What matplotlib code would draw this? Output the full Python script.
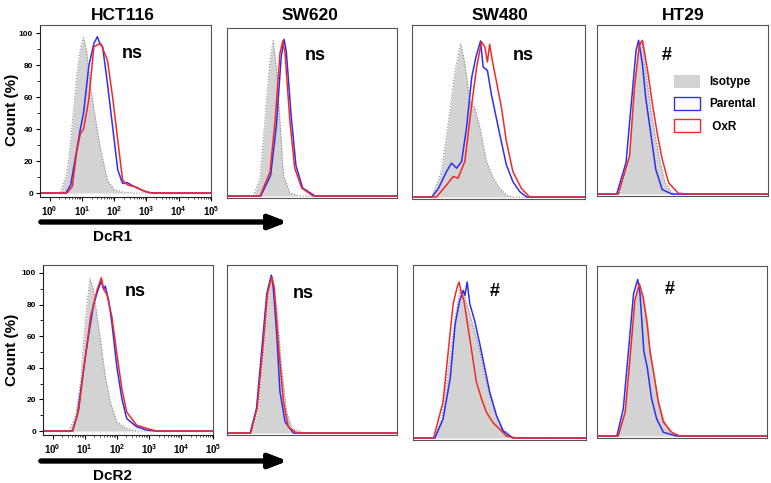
import matplotlib
matplotlib.use("Agg")
import matplotlib.pyplot as plt
from matplotlib.patches import Patch
from matplotlib.ticker import FixedLocator, MultipleLocator
import numpy as np

plt.rcParams['font.family'] = ['Liberation Sans', 'DejaVu Sans']
plt.rcParams['font.weight'] = 'bold'
plt.rcParams['mathtext.fontset'] = 'custom'
plt.rcParams['mathtext.bf'] = 'Liberation Sans:bold'
plt.rcParams['mathtext.rm'] = 'Liberation Sans:bold'

W, H = 771, 483

cell_lines = ["HCT116", "SW620", "SW480", "HT29"]
markers = ["DcR1", "DcR2"]
labels_sig = [["ns", "ns", "ns", "#"], ["ns", "ns", "#", "#"]]

# x in log10 units (decades), y in % of max
# ---- DcR1 ----
hct_r1_iso_x = [-0.3, 0.32, 0.53, 0.63, 0.73, 0.85, 0.95, 1.05, 1.15, 1.27, 1.42, 1.58, 1.79, 2.0, 2.3, 2.6, 5.0]
hct_r1_iso_y = [0, 0, 12, 28, 50, 75, 90, 97, 88, 66, 46, 27, 8, 2, 0.5, 0, 0]
hct_r1_par_x = [-0.3, 0.5, 0.65, 0.84, 0.95, 1.05, 1.21, 1.37, 1.48, 1.56, 1.64, 1.79, 1.95, 2.11, 2.26, 2.4, 2.53, 2.74, 2.9, 3.06, 3.3, 5.0]
hct_r1_par_y = [0, 0, 5, 27, 40, 50, 79, 93.5, 97.7, 93, 91.5, 68.5, 41.5, 14.4, 6, 6.5, 5, 3, 1.5, 0.3, 0, 0]
hct_r1_oxr_x = [-0.3, 0.53, 0.7, 0.84, 0.95, 1.05, 1.21, 1.37, 1.58, 1.79, 1.95, 2.11, 2.26, 2.42, 2.63, 2.95, 3.16, 5.0]
hct_r1_oxr_y = [0, 0, 4, 26, 37, 40, 58, 91.5, 93.5, 83, 60, 33, 8, 5, 4, 1, 0, 0]

sw620_r1_iso_x = [-0.3, 0.52, 0.73, 0.88, 1.04, 1.14, 1.25, 1.35, 1.46, 1.66, 1.98, 5.0]
sw620_r1_iso_y = [0, 0, 11, 47, 85, 97, 78, 47, 13, 2, 0, 0]
sw620_r1_par_x = [-0.3, 0.75, 1.06, 1.24, 1.39, 1.48, 1.55, 1.70, 1.85, 2.06, 2.45, 5.0]
sw620_r1_par_y = [0, 0, 13, 44, 87, 98, 90, 50, 19, 5, 0, 0]
sw620_r1_oxr_x = [-0.3, 0.73, 1.04, 1.2, 1.35, 1.44, 1.51, 1.66, 1.81, 2.03, 2.39, 5.0]
sw620_r1_oxr_y = [0, 0, 15, 47, 89, 97, 89, 47, 17.5, 5, 0, 0]

sw480_r1_iso_x = [-0.3, 0.31, 0.6, 0.82, 1.02, 1.19, 1.32, 1.47, 1.62, 1.78, 1.98, 2.19, 2.39, 2.59, 2.79, 5.0]
sw480_r1_iso_y = [0, 0, 15.6, 46.4, 77.3, 93.7, 81.4, 58.8, 54.6, 42.3, 21.8, 11.5, 5.3, 1.2, 0, 0]
sw480_r1_par_x = [-0.3, 0.31, 0.51, 0.76, 0.91, 1.07, 1.22, 1.37, 1.53, 1.66, 1.8, 1.88, 2.01, 2.13, 2.28, 2.39, 2.59, 2.79, 3.0, 3.21, 5.0]
sw480_r1_par_y = [0, 0, 5.3, 15.6, 20.7, 17.6, 21.8, 42.3, 73.1, 85.5, 95.3, 79.3, 77.3, 62.9, 48.5, 38.2, 19.7, 9.4, 3.3, 0, 0]
sw480_r1_oxr_x = [-0.3, 0.45, 0.76, 0.96, 1.11, 1.32, 1.53, 1.68, 1.83, 1.93, 2.01, 2.08, 2.16, 2.28, 2.44, 2.59, 2.79, 3.05, 3.3, 5.0]
sw480_r1_oxr_y = [0, 0, 7.4, 12.5, 11.5, 21.8, 56.7, 79.3, 94.7, 91.6, 82.4, 93.2, 83.4, 71.1, 54.6, 34.1, 15.6, 5.3, 0, 0]

ht29_r1_iso_x = [-0.3, 0.4, 0.71, 0.86, 1.01, 1.09, 1.21, 1.36, 1.52, 1.66, 1.81, 2.02, 2.22, 5.0]
ht29_r1_iso_y = [0, 0, 23.8, 66, 93.4, 95.5, 76.5, 53.4, 34.4, 19.6, 7, 0.7, 0, 0]
ht29_r1_par_x = [-0.3, 0.31, 0.6, 0.76, 0.91, 0.99, 1.11, 1.21, 1.36, 1.52, 1.72, 2.02, 5.0]
ht29_r1_par_y = [0, 0, 19.6, 55.5, 89.2, 95.5, 80.5, 59.7, 38.6, 15.4, 2.8, 0, 0]
ht29_r1_oxr_x = [-0.3, 0.36, 0.71, 0.86, 1.01, 1.11, 1.27, 1.42, 1.56, 1.72, 1.92, 2.22, 2.52, 5.0]
ht29_r1_oxr_y = [0, 0, 23.8, 66, 92.4, 95.5, 76.5, 55.5, 38.6, 21.7, 7, 0.5, 0, 0]

# ---- DcR2 ----
hct_r2_iso_x = [-0.3, 0.51, 0.72, 0.87, 1.03, 1.16, 1.26, 1.39, 1.49, 1.64, 1.80, 2.0, 2.31, 2.62, 5.0]
hct_r2_iso_y = [0, 0, 10, 30.6, 72, 96.5, 90.7, 72, 57.6, 34.8, 18.2, 5.8, 1.7, 0, 0]
hct_r2_par_x = [-0.3, 0.62, 0.77, 0.98, 1.13, 1.28, 1.44, 1.52, 1.59, 1.64, 1.75, 1.85, 2.0, 2.16, 2.31, 2.62, 2.93, 3.23, 5.0]
hct_r2_par_y = [0, 0, 10, 41, 61.7, 80.3, 90.7, 94.8, 89.6, 91.7, 82.4, 67.9, 41, 20.3, 7.9, 2.7, 0.6, 0, 0]
hct_r2_oxr_x = [-0.3, 0.62, 0.82, 0.98, 1.18, 1.39, 1.52, 1.59, 1.69, 1.85, 2.0, 2.16, 2.31, 2.62, 2.93, 3.23, 5.0]
hct_r2_oxr_y = [0, 0, 14, 41, 72, 89.6, 96.9, 89.6, 86.5, 72, 49.3, 26.5, 12, 3.7, 1.7, 0, 0]

sw620_r2_iso_x = [-0.3, 0.47, 0.68, 0.84, 0.99, 1.12, 1.25, 1.4, 1.56, 1.72, 2.07, 2.39, 5.0]
sw620_r2_iso_y = [0, 0, 13.3, 51.2, 89.2, 97.6, 78.6, 40.7, 13.3, 2.8, 0.5, 0, 0]
sw620_r2_par_x = [-0.3, 0.42, 0.62, 0.78, 0.94, 1.08, 1.14, 1.25, 1.35, 1.51, 1.77, 5.0]
sw620_r2_par_y = [0, 0, 15.4, 51.2, 87.1, 98.7, 91.3, 61.8, 26, 7, 0, 0]
sw620_r2_oxr_x = [-0.3, 0.44, 0.64, 0.81, 0.96, 1.09, 1.17, 1.3, 1.46, 1.61, 1.87, 5.0]
sw620_r2_oxr_y = [0, 0, 15.4, 51.2, 87.1, 97.6, 91.3, 55.5, 19.6, 3.8, 0, 0]

sw480_r2_iso_x = [-0.3, 0.33, 0.58, 0.78, 0.99, 1.13, 1.29, 1.44, 1.59, 1.75, 1.9, 2.05, 2.26, 2.46, 2.76, 3.07, 5.0]
sw480_r2_iso_y = [0, 0, 11.5, 42.3, 73.1, 89.6, 85.5, 75.2, 64.9, 52.6, 38.2, 25.9, 13.5, 5.3, 0.2, 0, 0]
sw480_r2_par_x = [-0.3, 0.37, 0.62, 0.84, 0.99, 1.13, 1.24, 1.29, 1.36, 1.44, 1.59, 1.75, 1.9, 2.05, 2.26, 2.46, 2.76, 5.0]
sw480_r2_par_y = [0, 0, 11.5, 36.1, 69, 83.4, 89.6, 86.5, 94.7, 81.4, 71.1, 56.7, 42.3, 27.9, 13.5, 4.3, 0, 0]
sw480_r2_oxr_x = [-0.3, 0.33, 0.62, 0.78, 0.93, 1.04, 1.11, 1.19, 1.26, 1.34, 1.5, 1.64, 1.8, 1.95, 2.15, 2.36, 2.56, 2.87, 5.0]
sw480_r2_oxr_y = [0, 0, 21.8, 52.6, 81.4, 90.6, 94.7, 87.5, 83.4, 73.1, 52.6, 34.1, 23.8, 15.6, 9.4, 5.3, 1.2, 0, 0]

ht29_r2_iso_x = [-0.3, 0.36, 0.58, 0.73, 0.88, 1.02, 1.14, 1.3, 1.46, 1.61, 1.77, 1.98, 2.28, 5.0]
ht29_r2_iso_y = [0, 0, 16.9, 52.4, 83.7, 94.1, 83.7, 60.7, 39.9, 23.2, 10.6, 2.3, 0, 0]
ht29_r2_par_x = [-0.3, 0.32, 0.52, 0.68, 0.84, 0.97, 1.04, 1.16, 1.27, 1.4, 1.56, 1.77, 2.18, 5.0]
ht29_r2_par_y = [0, 0, 16.9, 52.4, 87.9, 96.7, 87.9, 52.4, 42, 23.2, 10.6, 2.3, 0, 0]
ht29_r2_oxr_x = [-0.3, 0.36, 0.58, 0.73, 0.88, 1.02, 1.14, 1.27, 1.35, 1.46, 1.61, 1.77, 2.03, 2.28, 5.0]
ht29_r2_oxr_y = [0, 0, 14.8, 48.2, 83.7, 94.1, 85.8, 69.1, 52.4, 39.9, 21.1, 8.6, 2.3, 0, 0]

panels = [
    [(hct_r1_iso_x, hct_r1_iso_y, hct_r1_par_x, hct_r1_par_y, hct_r1_oxr_x, hct_r1_oxr_y),
     (sw620_r1_iso_x, sw620_r1_iso_y, sw620_r1_par_x, sw620_r1_par_y, sw620_r1_oxr_x, sw620_r1_oxr_y),
     (sw480_r1_iso_x, sw480_r1_iso_y, sw480_r1_par_x, sw480_r1_par_y, sw480_r1_oxr_x, sw480_r1_oxr_y),
     (ht29_r1_iso_x, ht29_r1_iso_y, ht29_r1_par_x, ht29_r1_par_y, ht29_r1_oxr_x, ht29_r1_oxr_y)],
    [(hct_r2_iso_x, hct_r2_iso_y, hct_r2_par_x, hct_r2_par_y, hct_r2_oxr_x, hct_r2_oxr_y),
     (sw620_r2_iso_x, sw620_r2_iso_y, sw620_r2_par_x, sw620_r2_par_y, sw620_r2_oxr_x, sw620_r2_oxr_y),
     (sw480_r2_iso_x, sw480_r2_iso_y, sw480_r2_par_x, sw480_r2_par_y, sw480_r2_oxr_x, sw480_r2_oxr_y),
     (ht29_r2_iso_x, ht29_r2_iso_y, ht29_r2_par_x, ht29_r2_par_y, ht29_r2_oxr_x, ht29_r2_oxr_y)],
]

# axes boxes in pixels: left, right, top, bottom
boxes = [
    [(40, 211, 25, 197), (227, 397, 28, 198), (412, 585, 25, 199), (597, 768, 25, 196)],
    [(43, 213, 265, 435), (227, 397, 265, 435), (413, 586, 265, 440), (597, 767, 266, 438)],
]
sig_pos = [[(132, 53), (315, 55), (523, 55), (667, 55)],
           [(135, 292), (303, 293), (495, 292), (670, 290)]]
title_x = [123, 310, 500, 683]

ISO = '#d3d3d3'
BLUE = '#2e2ef5'
RED = '#f52828'


def fx(px):
    return px / W


def fy(py):
    return 1 - py / H


fig = plt.figure(figsize=(W / 100, H / 100), dpi=100)

for r in range(2):
    for c in range(4):
        l, rr, t, b = boxes[r][c]
        ax = fig.add_axes([fx(l), fy(b), (rr - l) / W, (b - t) / H])
        ix, iy, px_, py_, ox, oy = panels[r][c]
        ax.fill_between(ix, iy, 0, color=ISO, lw=0)
        ax.plot(ix, iy, ls=':', color='#8a8a8a', lw=0.8)
        ax.plot(px_, py_, color=BLUE, lw=1.1, solid_joinstyle='round')
        ax.plot(ox, oy, color=RED, lw=1.1, solid_joinstyle='round')
        ax.set_xlim(-0.3, 5.0)
        if c == 0:
            ax.set_ylim(-2.5, 105)
        else:
            ax.set_ylim(-1.2, 105)
        for s in ax.spines.values():
            s.set_color('#555555')
            s.set_linewidth(0.8)
        if c == 0:
            ax.spines['left'].set_color('#222222')
            ax.spines['bottom'].set_color('#222222')
            ax.set_yticks([0, 20, 40, 60, 80, 100])
            ax.yaxis.set_minor_locator(MultipleLocator(10))
            ax.tick_params(axis='y', labelsize=6, length=3, width=0.8, pad=2)
            ax.tick_params(axis='y', which='minor', length=2, width=0.6)
            ax.set_xticks(range(6))
            ax.set_xticklabels([r'$\mathbf{10^{%d}}$' % k for k in range(6)], fontsize=7)
            minors = [d + np.log10(m) for d in range(5) for m in range(2, 10)]
            ax.xaxis.set_minor_locator(FixedLocator(minors))
            ax.tick_params(axis='x', length=3, width=0.8, pad=2)
            ax.tick_params(axis='x', which='minor', length=1.5, width=0.5)
            for lab in ax.get_yticklabels():
                lab.set_fontweight('bold')
        else:
            ax.set_xticks([])
            ax.set_yticks([])
        sx, sy = sig_pos[r][c]
        fig.text(fx(sx), fy(sy), labels_sig[r][c], fontsize=13, fontweight='bold',
                 ha='center', va='center')
        if r == 0 and c == 3:
            handles = [Patch(facecolor=ISO, edgecolor='none', label='Isotype'),
                       Patch(facecolor='white', edgecolor=BLUE, lw=1.0, label='Parental'),
                       Patch(facecolor='white', edgecolor=RED, lw=1.0, label=' OxR')]
            leg = ax.legend(handles=handles, loc='upper left', frameon=False,
                            bbox_to_anchor=(fx(669), fy(70)), bbox_transform=fig.transFigure,
                            prop={'weight': 'bold', 'size': 8.5}, handlelength=2.2,
                            handleheight=1.3, labelspacing=0.75, handletextpad=0.8,
                            borderaxespad=0)

# column titles
for c, name in enumerate(cell_lines):
    fig.text(fx(title_x[c]), fy(15), name, fontsize=12.5, fontweight='bold',
             ha='center', va='center')

# y labels
for yc in (110, 350):
    fig.text(fx(12), fy(yc), 'Count (%)', rotation=90, fontsize=11, fontweight='bold',
             ha='center', va='center')

# marker arrows and names
for yarr, ytxt, name in ((222, 237, markers[0]), (461, 476, markers[1])):
    fig.add_artist(plt.annotate('', xy=(fx(290), fy(yarr)), xytext=(fx(38), fy(yarr)),
                                xycoords='figure fraction', textcoords='figure fraction',
                                arrowprops=dict(arrowstyle='-|>,head_length=0.9,head_width=0.35',
                                                lw=3.5, color='black', mutation_scale=12)))
    fig.text(fx(112), fy(ytxt), name, fontsize=11, fontweight='bold', ha='center', va='center')

fig.savefig('out.png', dpi=100)
